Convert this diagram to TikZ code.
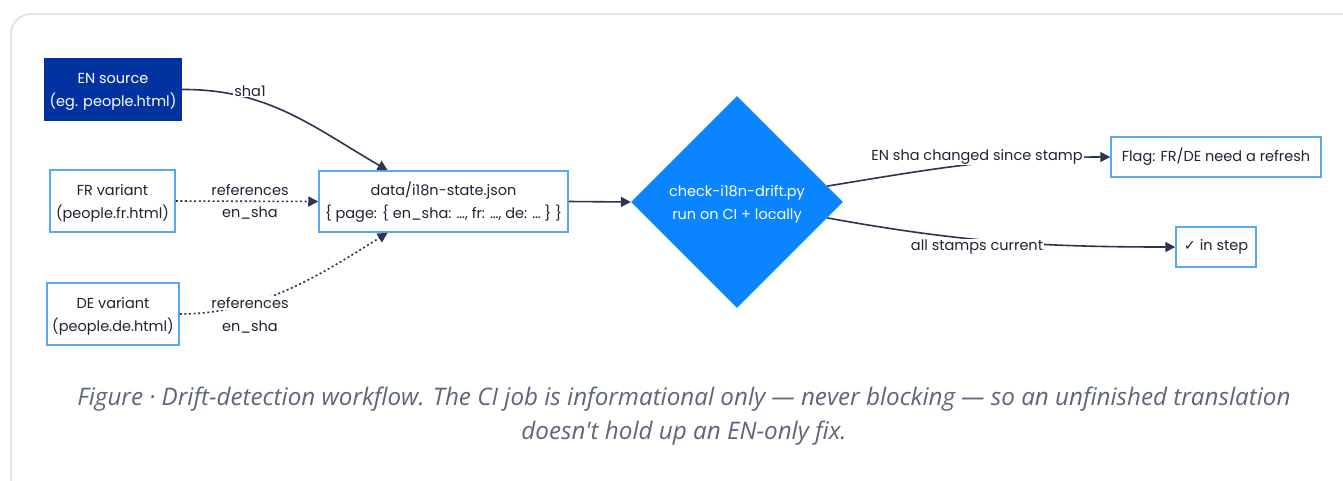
\documentclass[tikz,border=0pt]{standalone}
\usepackage{fontspec}
\setmainfont{Poppins}
\newfontfamily\capfont{Open Sans}
\newfontfamily\symf{DejaVu Sans}
\usetikzlibrary{shapes.geometric,arrows.meta,calc}
\definecolor{enblue}{HTML}{0033A0}
\definecolor{diablue}{HTML}{0A84FF}
\definecolor{boxline}{HTML}{58A8F8}
\definecolor{edgec}{HTML}{2B3550}
\definecolor{txtc}{HTML}{1F2433}
\definecolor{capc}{HTML}{5E6679}
\definecolor{framec}{HTML}{E4E4E4}
\newcommand\tstrut{\rule{0pt}{15pt}}
\tikzset{
  basefont/.style={font=\fontsize{14.5}{23}\selectfont, text=txtc, align=center},
  enbox/.style={basefont, fill=enblue, text=white, inner sep=0pt},
  varbox/.style={basefont, draw=boxline, line width=1.5pt, fill=white, inner sep=0pt},
  decbox/.style={basefont, diamond, fill=diablue, text=white, inner sep=0pt, minimum size=212pt, aspect=1},
  edge/.style={draw=edgec, line width=1.6pt, -{Triangle[length=10pt,width=10pt]}},
  dotedge/.style={edge, dash pattern=on 2pt off 2.6pt},
  lbl/.style={font=\fontsize{14.5}{17}\selectfont, text=txtc, fill=white, inner sep=1pt},
  captext/.style={font=\capfont\itshape\fontsize{24.2}{34}\selectfont, text=capc, align=center}
}
\begin{document}
\begin{tikzpicture}[x=1pt,y=-1pt]
\useasboundingbox (0,0) rectangle (1343,480);
\fill[white] (0,0) rectangle (1343,480);
\begin{scope}
  \clip (0,0) rectangle (1343,480);
  \draw[framec, line width=2pt, rounded corners=20pt] (11,14) rectangle (1370,500);
\end{scope}

% nodes
\node[enbox, minimum width=138pt, minimum height=63pt] (en) at (113,89.5) {\tstrut EN source\\(eg. people.html)};
\node[varbox, minimum width=125pt, minimum height=62pt] (fr) at (112.5,201) {\tstrut FR variant\\(people.fr.html)};
\node[varbox, minimum width=132pt, minimum height=62pt] (de) at (113,314) {\tstrut DE variant\\(people.de.html)};
\node[varbox, minimum width=249pt, minimum height=61pt] (js) at (443.5,201.5) {\tstrut data/i18n-state.json\\\{ page: \{ en\_sha: …, fr: …, de: … \} \}};
\node[decbox] (dia) at (737,202) {\tstrut check-i18n-drift.py\\run on CI + locally};
\node[varbox, minimum width=210pt, minimum height=40pt] (flag) at (1216,157) {Flag: FR/DE need a refresh};
\node[varbox, minimum width=80pt, minimum height=40pt] (ok) at (1216,247) {{\symf ✓} in step};

\coordinate (jtop) at ($(js.north west)!0.277!(js.north east)$);
\coordinate (jbot) at ($(js.south west)!0.277!(js.south east)$);

% connectors
\draw[edge] (en.east) .. controls (268,89) and (313,127) .. (jtop);
\draw[dotedge] (fr.east) -- (js.west);
\draw[dotedge] (de.east) .. controls (260,314) and (320,275) .. (jbot);
\draw[edge] (js.east) -- (dia.west);
\draw[edge] (dia.10) .. controls (937,168) and (1000,157) .. (flag.west);
\draw[edge] (dia.-10) .. controls (960,242) and (1040,247) .. (ok.west);

% labels
\node[lbl] (l1) at (250,91) {sha1};
\node[lbl] (l2a) at (250,190) {references};
\node[lbl] (l2b) at (250,213) {en\_sha};
\node[lbl] (l3a) at (250,303) {references};
\node[lbl] (l3b) at (250,327) {en\_sha};
\node[lbl] (l4) at (977,157) {EN sha changed since stamp};
\node[lbl] (l5) at (977,247) {all stamps current};

% caption
\node[captext] (cap) at (684,416) {Figure · Drift-detection workflow. The CI job is informational only — never blocking — so an unfinished translation\\doesn't hold up an EN-only fix.};
\end{tikzpicture}
\end{document}
